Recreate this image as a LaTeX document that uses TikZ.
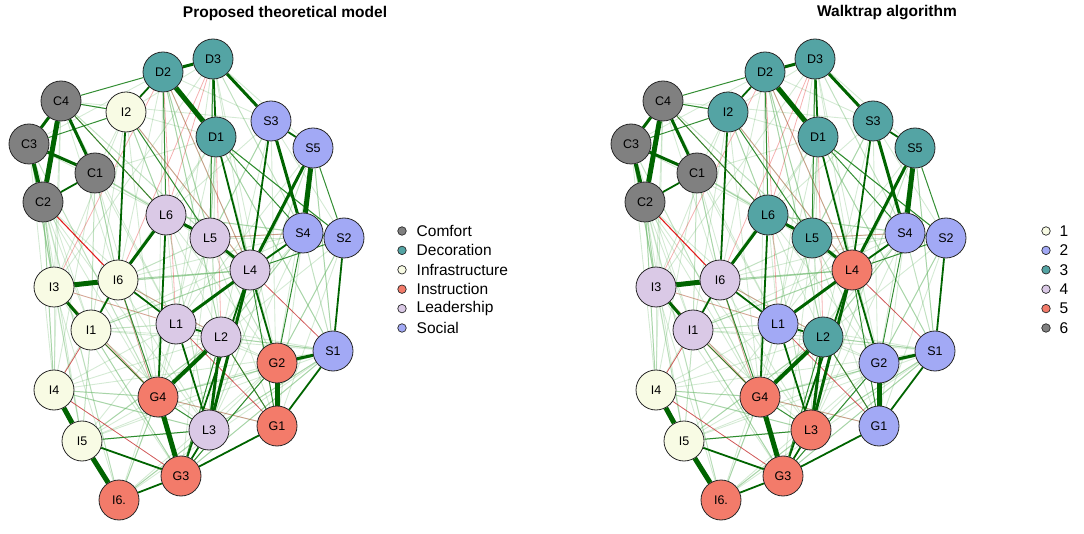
\documentclass[tikz,border=0pt]{standalone}
\usepackage{fontspec}
\setmainfont{Liberation Sans}
\usetikzlibrary{backgrounds}
\definecolor{cC}{RGB}{128,128,128}
\definecolor{cD}{RGB}{84,164,164}
\definecolor{cI}{RGB}{248,251,228}
\definecolor{cG}{RGB}{243,123,106}
\definecolor{cL}{RGB}{218,201,230}
\definecolor{cS}{RGB}{162,169,245}
\definecolor{nbord}{RGB}{40,40,40}
\definecolor{dgreen}{RGB}{0,100,0}
\definecolor{mgreen}{RGB}{30,130,30}
\definecolor{lgreen}{RGB}{100,180,100}
\definecolor{ered}{RGB}{225,30,30}
\definecolor{dred}{RGB}{200,60,60}
\begin{document}
\begin{tikzpicture}[x=1pt,y=-1pt,
  nd/.style={circle, draw=nbord, line width=0.8pt, minimum size=40pt, inner sep=0pt, font=\fontsize{12.5}{12.5}\selectfont},
  ttl/.style={font=\bfseries\fontsize{15.5}{15.5}\selectfont, inner sep=0pt},
  ldot/.style={circle, draw=nbord, line width=0.7pt, minimum size=8.5pt, inner sep=0pt},
  ltxt/.style={anchor=west, inner sep=0pt, font=\fontsize{15.5}{15.5}\selectfont},
  e5/.style={draw=dgreen, line width=5pt},
  e4/.style={draw=dgreen, line width=4pt},
  e3/.style={draw=dgreen, line width=3pt},
  e2/.style={draw=dgreen, line width=1.8pt},
  e1/.style={draw=mgreen, line width=1pt, opacity=0.9},
  ef/.style={draw=lgreen, line width=1pt, opacity=0.4},
  eff/.style={draw=lgreen, line width=0.9pt, opacity=0.28},
  er/.style={draw=dred, line width=0.8pt, opacity=0.85},
  erb/.style={draw=ered, line width=1.1pt},
  erf/.style={draw=ered, line width=0.8pt, opacity=0.35}]
\useasboundingbox (0,0) rectangle (1084,534);
\node[ttl] (t1) at (285,13) {Proposed theoretical model};
\node[ttl] (t2) at (887,13) {Walktrap algorithm};
\foreach \n/\x/\y/\t/\ca/\cb in {
  C4/61/101/C4/cC/cC, C3/29/144/C3/cC/cC, C1/95/173/C1/cC/cC, C2/43/202/C2/cC/cC,
  I2/126/112/I2/cI/cD, D2/163/72/D2/cD/cD, D3/213/59/D3/cD/cD, D1/216/137/D1/cD/cD,
  S3/271/121/S3/cS/cD, S5/313/148/S5/cS/cD, L6/166/215/L6/cL/cD, L5/210/238/L5/cL/cD,
  S4/303/233/S4/cS/cS, S2/344/238/S2/cS/cS, L4/250/270/L4/cL/cG, I3/54/287/I3/cI/cL,
  I6/118/280/I6/cI/cL, I1/91/330/I1/cI/cL, L1/176/324/L1/cL/cS, L2/221/337/L2/cL/cD,
  G2/277/363/G2/cG/cS, S1/333/351/S1/cS/cS, I4/54/390/I4/cI/cI, G4/158/397/G4/cG/cG,
  L3/209/430/L3/cL/cG, G1/277/426/G1/cG/cS, I5/82/441/I5/cI/cI, G3/181/476/G3/cG/cG,
  I7/119/500/I6./cG/cG} {
  \node[nd, fill=\ca] (a\n) at (\x,\y) {\t};
  \node[nd, fill=\cb] (b\n) at (\x+602,\y) {\t};
}
\begin{pgfonlayer}{background}
\foreach \p in {a,b} {
  \foreach \u/\v in {C2/I4, C2/I5, C2/I7, C3/I4, C3/I5, C2/I1, C4/I6, C1/I6, C1/L6, C1/L1,
    C2/G4, C3/I3, I3/I4, I3/I5, I3/G4, I3/L1, I6/L4, I1/L2, I1/L3, I1/G3, I4/L1, I4/L3,
    I4/G4, I5/L2, I5/G4, I7/L3, I7/L1, I7/G4, I7/I3, G4/G2, G4/S1, L3/S1, L3/G2, G3/G2,
    G3/S1, L1/S4, L1/S1, L2/S4, L2/G2, L2/S1, L5/S2, L6/S4, L6/L4, L6/L1, L6/L2,
    L5/G4, L5/L2, L5/L1, D1/S1, D1/L5, D1/L6, D2/L5, D2/L2, D3/L4, D3/S5, D2/S3,
    D3/I2, S3/L5, S3/L6, S3/S2, S5/S1, S5/G2, S2/G2, S2/G1, I2/C1, I2/L6, I2/D1,
    C4/S3, C3/D2, C3/L6, C1/L5, C2/L1, C2/I3, C3/I1, C4/I3, I2/I3, I2/I1, I2/G4,
    I6/G3, I6/L3, I6/I4, I6/S4, I1/S4, I1/L4, I3/L4, I4/L2, I5/L1, I5/G2, I7/G2,
    G4/S4, L3/S4, G1/S4, G1/L5, G3/L5, D1/G4, D1/L3, D2/G4, D3/G2, S5/L1, S5/L2,
    S3/G1, S3/L2, D1/I6, D2/I6, D3/I3, C1/D1, C4/L1, C1/G3, I7/S1, L2/S2, I1/S1,
    C3/I7, C4/I4, C1/I4, C2/L3, I3/G3, I4/S1, I5/S1, L1/G2, L6/G2, D3/L1} \draw[eff] (\p\u) -- (\p\v);
  \foreach \u/\v in {C2/I3, C2/I4, C3/I3, C1/I1, C1/L6, C4/L5, I6/L5, I6/L2, I1/L1, I1/G3,
    I4/G4, I4/L3, I5/L3, I7/L3, I5/L2, G4/S1, G4/G1, L3/S1, L1/S4, L2/S4, L5/S4,
    L6/S2, D1/S1, D1/L5, D2/L5, D2/L4, D3/L5, D3/S4, D1/S2, S3/L5, S5/S1, S4/S1,
    S2/G2, L5/G2, L6/L3, I2/L6, I3/L4, I1/L4, G3/S1, L2/S1, I6/L4, D2/L2, C3/G4,
    C4/I2, C1/I6, I7/G4, I5/I1, I2/L4, D1/G2, S5/L3} \draw[ef] (\p\u) -- (\p\v);
  \foreach \u/\v in {D2/L4, D2/L1, D3/L6, D3/I6, D2/I3, C4/L6, I6/L2, L5/S4, G4/G1,
    L2/G1, I3/L1, I3/G4, I6/G3, D1/L2, I2/L4} \draw[erf] (\p\u) -- (\p\v);
  \foreach \u/\v in {L4/S1, L1/G1, I4/G3, I1/I4, I1/G4} \draw[er] (\p\u) -- (\p\v);
  \foreach \u/\v in {C2/I6} \draw[erb] (\p\u) -- (\p\v);
  \foreach \u/\v in {I2/L5, C4/I2, C3/I2, C4/L6, D1/S4, D1/S2, S4/G2, L4/S2, I1/G4,
    G4/L3, L2/G1, L4/G1, L2/G3, D2/L6, S5/S2, C4/D2, D3/L5, I5/L3, G3/G2, I6/G4} \draw[e1] (\p\u) -- (\p\v);
  \foreach \u/\v in {C1/C2, D2/I2, D3/D1, S3/S5, S3/L4, D1/L4, S4/L4, S4/S2, S2/S1,
    L4/G2, G1/S1, L3/G3, G3/I7, I5/G3, G3/G1, I6/L1, L1/L2, I2/I6, L6/G4, L1/L3,
    I6/I1, L4/G3} \draw[e2] (\p\u) -- (\p\v);
  \foreach \u/\v in {C4/C3, C4/C1, C3/C1, D3/S3, S3/S4, S5/L4, L4/L3, L5/L4, L6/L5,
    L6/I6, L1/L4, G2/S1, D2/D3, I3/I1, L2/L3} \draw[e3] (\p\u) -- (\p\v);
  \foreach \u/\v in {C3/C2, L2/G4} \draw[e4] (\p\u) -- (\p\v);
  \foreach \u/\v in {C4/C2, D2/D1, S5/S4, G2/G1, I4/I5, I5/I7, G4/G3, I3/I6} \draw[e5] (\p\u) -- (\p\v);
}
\end{pgfonlayer}
\foreach \t/\c [count=\i] in {Comfort/cC, Decoration/cD, Infrastructure/cI, Instruction/cG, Leadership/cL, Social/cS} {
  \pgfmathsetmacro{\yy}{231+19.4*(\i-1)}
  \node[ldot, fill=\c] (la\i) at (402,\yy) {};
  \node[ltxt] (lt\i) at (416.5,\yy) {\t};
}
\foreach \t/\c [count=\i] in {1/cI, 2/cS, 3/cD, 4/cL, 5/cG, 6/cC} {
  \pgfmathsetmacro{\yy}{231+19.4*(\i-1)}
  \node[ldot, fill=\c] (lb\i) at (1046,\yy) {};
  \node[ltxt] (ltb\i) at (1059.5,\yy) {\t};
}
\end{tikzpicture}
\end{document}
